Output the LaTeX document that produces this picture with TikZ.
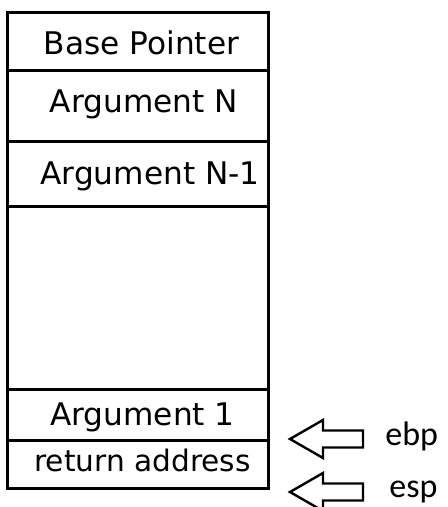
\documentclass[tikz,border=0pt]{standalone}
\usepackage{fontspec}
\setmainfont{DejaVu Sans}
\newfontfamily\lblfont{Carlito}
\begin{document}
\begin{tikzpicture}[x=0.5pt,y=-0.5pt,
  boxline/.style={draw, line width=1.5pt},
  celltext/.style={anchor=base, inner sep=0pt, font=\fontsize{15.6pt}{18pt}\selectfont},
  ptrtext/.style={anchor=base west, inner sep=0pt, font=\lblfont\fontsize{17pt}{19pt}\selectfont},
  ptrarrow/.style={draw, line width=1.2pt, line join=miter}]
\useasboundingbox (0,0) rectangle (448,507);
\clip (0,0) rectangle (448,507);
% stack frame
\draw[boxline] (7.5,12.5) rectangle (268,488);
\foreach \y in {71,142,207,389.5,440.7} \draw[boxline] (7.5,\y) -- (268,\y);
% cell labels
\node[celltext] (bp) at (141.5,55) {Base Pointer};
\node[celltext] (argn) at (144,113) {Argument N};
\node[celltext] (argn1) at (150,185) {Argument N-1};
\node[celltext] (arg1) at (142.5,425) {Argument 1};
\node[celltext, font=\fontsize{14.8pt}{18pt}\selectfont] (ret) at (142.5,471) {return address};
% pointers
\coordinate (ebptip) at (290,439);
\coordinate (esptip) at (290,492);
\draw[ptrarrow] (ebptip) -- ++(33,-19) -- ++(0,10.5) -- ++(40,0) -- ++(0,17) -- ++(-40,0) -- ++(0,10.5) -- cycle;
\draw[ptrarrow] (esptip) -- ++(33,-19) -- ++(0,10.5) -- ++(40,0) -- ++(0,17) -- ++(-40,0) -- ++(0,10.5) -- cycle;
\node[ptrtext] (ebp) at (385,445) {ebp};
\node[ptrtext] (esp) at (389,497) {esp};
\end{tikzpicture}
\end{document}
